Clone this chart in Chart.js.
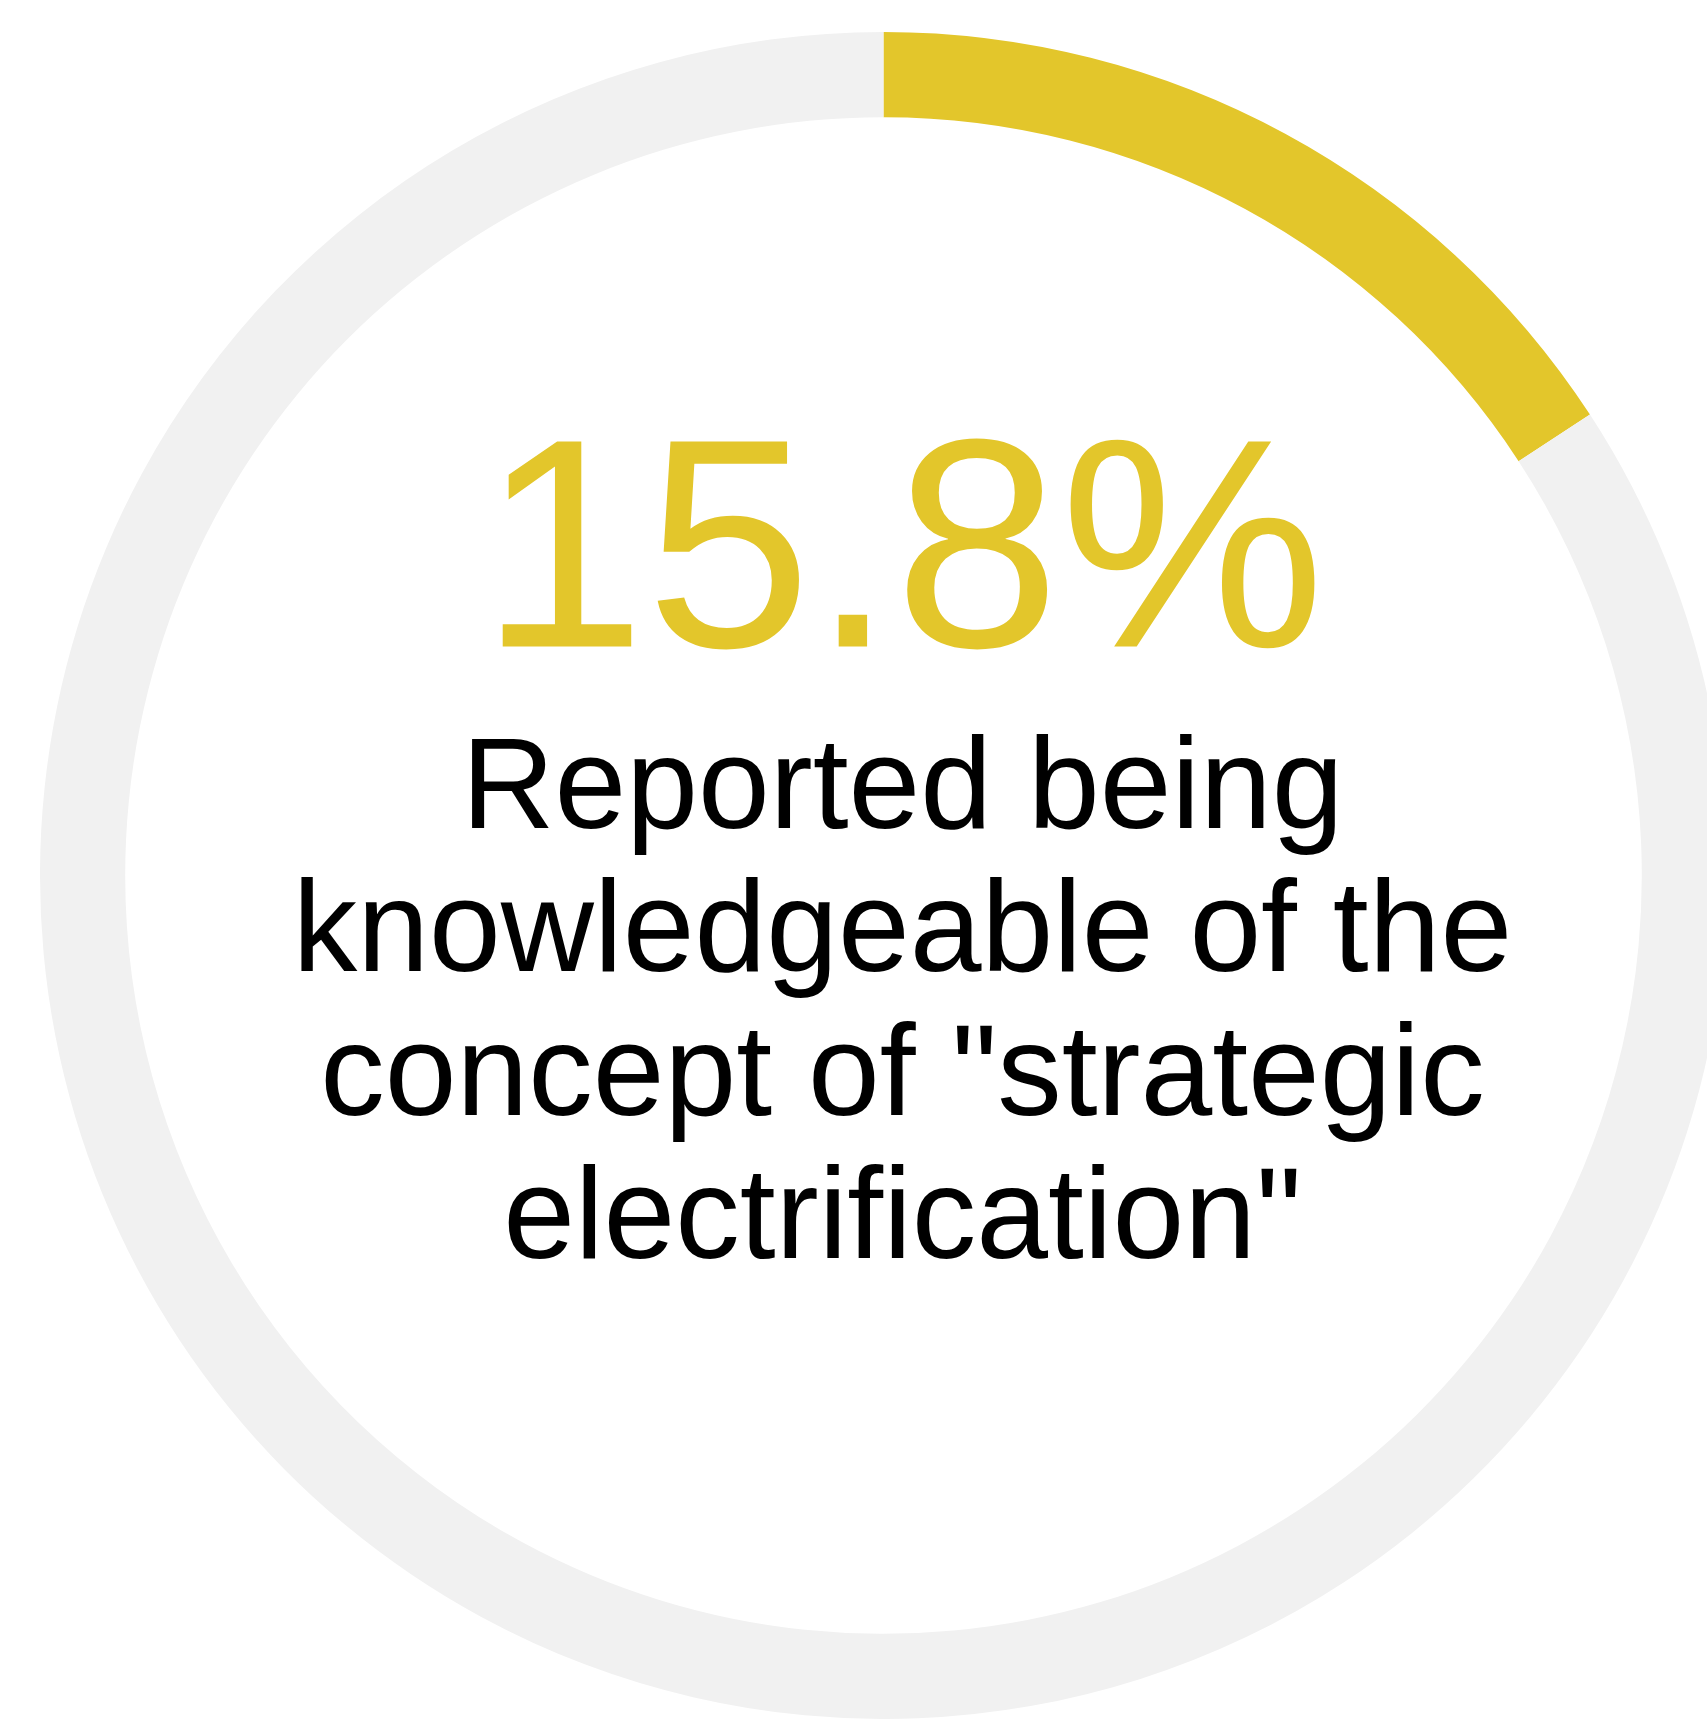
<!DOCTYPE html>
<html>
<head>
<meta charset="utf-8">
<script src="https://cdn.jsdelivr.net/npm/chart.js@4.4.1/dist/chart.umd.min.js"></script>
<style>
  html, body { margin: 0; padding: 0; background: #fff; overflow: hidden; }
  body { width: 1707px; height: 1721px; position: relative; }
  #ring { position: absolute; left: 40px; top: 32px; }
</style>
</head>
<body>
<canvas id="ring" width="1687" height="1687"></canvas>
<script>
const segments = ['Knowledgeable', 'Not knowledgeable'];
const shares = [15.8, 84.2];
const segmentColors = ['#e3c62b', '#f1f1f1'];
const captionLines = ['Reported being', 'knowledgeable of the', 'concept of "strategic', 'electrification"'];

// big percentage + caption drawn in the hole of the ring
const centerText = {
    id: 'centerText',
    afterDraw(chart) {
        const ctx = chart.ctx;
        const arc = chart.getDatasetMeta(0).data[0];
        const cx = arc.x + 19; // text block sits a little right of the ring centre
        const cy = arc.y;

        ctx.save();
        ctx.textAlign = 'center';
        ctx.textBaseline = 'alphabetic';

        ctx.fillStyle = segmentColors[0];
        ctx.font = '298px "Liberation Sans", Arial, sans-serif';
        ctx.fillText(shares[0].toFixed(1) + '%', cx, cy - 229);

        ctx.fillStyle = '#000';
        ctx.font = '129px "Liberation Sans", Arial, sans-serif';
        captionLines.forEach((line, i) => {
            ctx.fillText(line, cx, cy - 48 + i * 143.5);
        });
        ctx.restore();
    }
};

const ctx = document.getElementById('ring').getContext('2d');
new Chart(ctx, {
    type: 'doughnut',
    data: {
        labels: segments,
        datasets: [{
            data: shares,
            backgroundColor: segmentColors,
            borderWidth: 0,
            offset: 0,
            hoverOffset: 0
        }]
    },
    options: {
        responsive: false,
        animation: false,
        events: [],
        cutout: '89.9%',
        rotation: 0,
        layout: { padding: 0 },
        plugins: {
            legend: { display: false },
            tooltip: { enabled: false }
        }
    },
    plugins: [centerText]
});
</script>
</body>
</html>
